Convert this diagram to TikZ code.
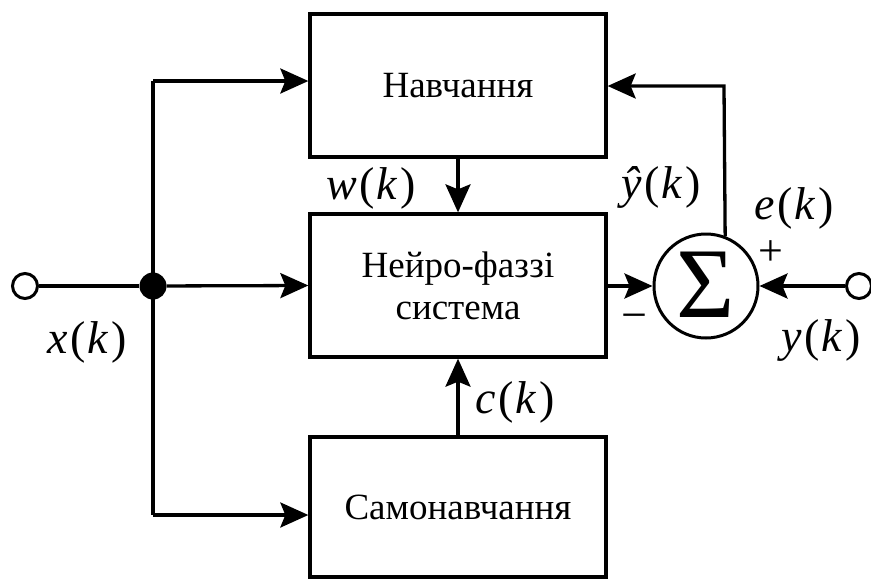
\documentclass[tikz,border=0pt]{standalone}
\usepackage{fontspec}
\setmainfont{Liberation Serif}
\usetikzlibrary{arrows.meta,calc}
\newcommand\vlab[2]{\textit{#1}\kern3pt(\kern1pt\textit{#2}\kern3pt)}
\begin{document}
\begin{tikzpicture}[x=1pt,y=-1pt,
  wire/.style={line width=3.3pt},
  arr/.style={wire,-{Stealth[length=28pt,width=25pt,inset=5pt]}},
  blk/.style={draw,line width=3.3pt,minimum width=296pt,inner sep=0pt,align=center,font=\fontsize{37}{42}\selectfont},
  lab/.style={inner sep=0pt,font=\fontsize{46}{50}\selectfont},
  port/.style={draw,circle,line width=3pt,minimum size=25pt,inner sep=0pt,fill=white},
  dot/.style={circle,fill=black,minimum size=27pt,inner sep=0pt}]
\useasboundingbox (0,0) rectangle (871,579);
\node[blk,minimum height=143pt] (top) at (458,85.5) {\raisebox{-3pt}{Навчання}};
\node[blk,minimum height=143pt] (mid) at (458,285.5) {Нейро-фаззі\\система};
\node[blk,minimum height=140pt] (bot) at (458,507) {Самонавчання};
\node[draw,circle,line width=3pt,minimum size=104pt,inner sep=0pt,font=\fontsize{100}{100}\selectfont] (sum) at (706,286) {\raisebox{3pt}{Σ}};
\node[port] (xin) at (25,286) {};
\node[port] (yin) at (859,286) {};
\node[dot] (j) at (153,286) {};
\coordinate (tl) at (153,81);
\coordinate (bl) at (153,515);
\coordinate (fb) at (724,86);
% wires
\draw[wire] (xin) -- (j);
\draw[wire] (tl) -- (bl);
\draw[arr] (j) -- (mid.west);
\draw[arr] (tl) -- (tl -| top.west);
\draw[arr] (bl) -- (bl -| bot.west);
\draw[arr] (top.south) -- (mid.north);
\draw[arr] (bot.north) -- (mid.south);
\draw[arr] (mid.east |- sum.west) -- (sum.west);
\draw[arr] (yin.west) -- (sum.east);
\draw[arr] (sum.69.7) -- (fb) -- (fb -| top.east);
% labels
\node[lab] (lx) at (87,342) {\vlab{x}{k}};
\node[lab] (lw) at (371,188) {\vlab{w}{k}};
\node[lab] (lyh) at (661,187) {\vlab{ŷ}{k}};
\node[lab] (le) at (794,208) {\vlab{e}{k}};
\node[lab] (ly) at (821,340) {\vlab{y}{k}};
\node[lab] (lc) at (515,402) {\vlab{c}{k}};
\node[inner sep=0pt,font=\fontsize{44}{44}\selectfont] (plus) at (771,253) {+};
\node[inner sep=0pt,font=\fontsize{46}{46}\selectfont] (minus) at (634,322) {−};
\end{tikzpicture}
\end{document}
